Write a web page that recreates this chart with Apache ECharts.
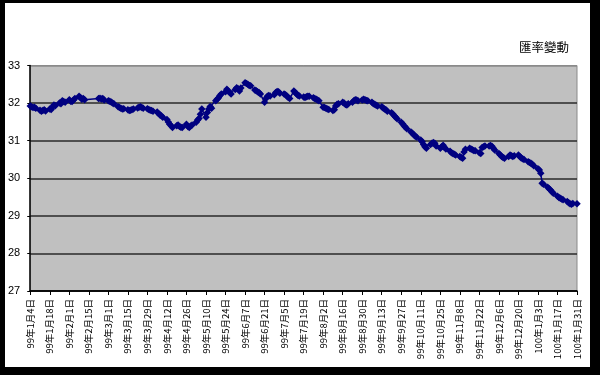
<!DOCTYPE html>
<html><head><meta charset="utf-8">
<script src="https://cdn.jsdelivr.net/npm/echarts@6.0.0/dist/echarts.min.js"></script>
<style>
html,body{margin:0;padding:0;background:#000;width:600px;height:375px;overflow:hidden}
#c{position:absolute;left:5px;top:3px;width:585px;height:364px;background:#fff}
</style>
</head><body><div id="c"></div><script>
// Axis range: calendar days from 2010-01-04 to 2011-01-31 (ROC 99年1月4日 – 100年1月31日)
const startDate = [2010, 1, 4];
const endDate = [2011, 1, 31];
const holidays = ['2010-02-15','2010-02-16','2010-02-17','2010-02-18','2010-02-19'];
const yTicks = [27, 28, 29, 30, 31, 32, 33];
const titleText = '匯率變動';

// Exchange rate per trading day (Mon–Fri, holidays skipped)
const rates = [
  31.92,31.90,31.88,31.89,31.86,
  31.81,31.78,31.80,31.82,31.79,
  31.84,31.83,31.90,31.95,31.93,
  32.00,31.98,32.06,32.04,32.02,
  32.09,32.05,32.04,32.08,32.12,
  32.18,32.15,32.10,32.12,32.09,
  32.12,32.13,32.11,32.12,32.08,
  32.06,32.05,32.03,32.00,31.98,
  31.90,31.88,31.86,31.84,31.85,
  31.82,31.80,31.81,31.83,31.84,
  31.87,31.89,31.90,31.88,31.86,
  31.85,31.83,31.81,31.80,31.78,
  31.76,31.72,31.68,31.66,31.62,
  31.56,31.50,31.44,31.40,31.35,
  31.40,31.42,31.38,31.36,31.35,
  31.44,31.38,31.35,31.39,31.42,
  31.49,31.55,31.59,31.70,31.84,
  31.62,31.75,31.84,31.91,31.86,
  32.06,32.10,32.14,32.20,32.24,
  32.30,32.37,32.32,32.28,32.24,
  32.36,32.41,32.38,32.32,32.40,
  32.54,32.52,32.50,32.47,32.46,
  32.35,32.33,32.30,32.28,32.24,
  32.02,32.12,32.18,32.20,32.19,
  32.22,32.28,32.31,32.30,32.26,
  32.24,32.22,32.19,32.15,32.12,
  32.32,32.28,32.24,32.20,32.19,
  32.16,32.15,32.17,32.18,32.18,
  32.14,32.12,32.10,32.08,32.06,
  31.89,31.88,31.86,31.84,31.83,
  31.80,31.82,31.92,31.97,31.98,
  32.02,32.00,31.96,31.95,31.98,
  32.02,32.06,32.09,32.08,32.06,
  32.08,32.10,32.09,32.07,32.06,
  32.02,31.98,31.97,31.94,31.92,
  31.90,31.87,31.84,31.82,31.78,
  31.74,31.71,31.66,31.62,31.58,
  31.49,31.45,31.40,31.36,31.32,
  31.23,31.20,31.16,31.12,31.10,
  31.02,30.97,30.90,30.84,30.80,
  30.90,30.93,30.95,30.93,30.86,
  30.80,30.84,30.88,30.82,30.78,
  30.72,30.68,30.66,30.64,30.62,
  30.58,30.55,30.53,30.70,30.77,
  30.80,30.78,30.76,30.74,30.73,
  30.68,30.66,30.82,30.84,30.86,
  30.86,30.87,30.85,30.80,30.75,
  30.66,30.62,30.58,30.55,30.53,
  30.58,30.62,30.60,30.58,30.60,
  30.62,30.58,30.54,30.52,30.50,
  30.44,30.42,30.40,30.37,30.33,
  30.25,30.22,30.13,29.87,29.84,
  29.76,29.72,29.69,29.64,29.60,
  29.52,29.49,29.47,29.45,29.43,
  29.38,29.35,29.32,29.31,29.33,
  29.32
];

// Build calendar categories and map trading-day values onto them
const categories = [];
const seriesData = [];
let d = new Date(Date.UTC(startDate[0], startDate[1]-1, startDate[2]));
const end = new Date(Date.UTC(endDate[0], endDate[1]-1, endDate[2]));
let ri = 0;
while (d <= end) {
  const y = d.getUTCFullYear(), m = d.getUTCMonth()+1, day = d.getUTCDate();
  categories.push((y-1911) + '年' + m + '月' + day + '日');
  const iso = y + '-' + String(m).padStart(2,'0') + '-' + String(day).padStart(2,'0');
  const wd = d.getUTCDay();
  if (wd !== 0 && wd !== 6 && holidays.indexOf(iso) < 0 && ri < rates.length) {
    seriesData.push(rates[ri++]);
  } else {
    seriesData.push(null);
  }
  d = new Date(d.getTime() + 86400000);
}

const chart = echarts.init(document.getElementById('c'), null, {renderer:'canvas'});
chart.setOption({
  animation: false,
  backgroundColor: '#fff',
  title: {
    text: titleText, right: 21, top: 38, padding: 0,
    textStyle: {fontSize: 12.5, fontWeight: 'normal', color: '#000', fontFamily: 'Noto Sans CJK TC'}
  },
  grid: {
    left: 22, right: 13, top: 62.5, bottom: 76,
    show: true, backgroundColor: '#c0c0c0', borderColor: '#8a8a8a', borderWidth: 1
  },
  xAxis: {
    type: 'category', data: categories, boundaryGap: false,
    axisLine: {lineStyle: {color: '#000', width: 1.5}},
    axisTick: {interval: 13, length: 4, lineStyle: {color: '#000'}},
    axisLabel: {interval: 13, rotate: 90, fontSize: 9.5, color: '#000', margin: 8,
      fontFamily: 'Noto Sans CJK TC'},
    splitLine: {show: false}
  },
  yAxis: {
    type: 'value', min: yTicks[0], max: yTicks[yTicks.length-1], interval: 1,
    axisLine: {show: true, lineStyle: {color: '#000', width: 1.5}},
    axisTick: {show: true, length: 3, lineStyle: {color: '#000'}},
    axisLabel: {fontSize: 11, color: '#000', margin: 10, fontFamily: 'Liberation Sans'},
    splitLine: {show: true, lineStyle: {color: ['#000','#2a2a2a','#2a2a2a','#2a2a2a','#2a2a2a','#2a2a2a','#8a8a8a'], width: 1.6}}
  },
  series: [{
    type: 'line', data: seriesData, connectNulls: true,
    showAllSymbol: true, symbol: 'diamond', symbolSize: 7.5,
    lineStyle: {color: '#000080', width: 1.5},
    itemStyle: {color: '#000080'}
  }]
});
</script></body></html>
